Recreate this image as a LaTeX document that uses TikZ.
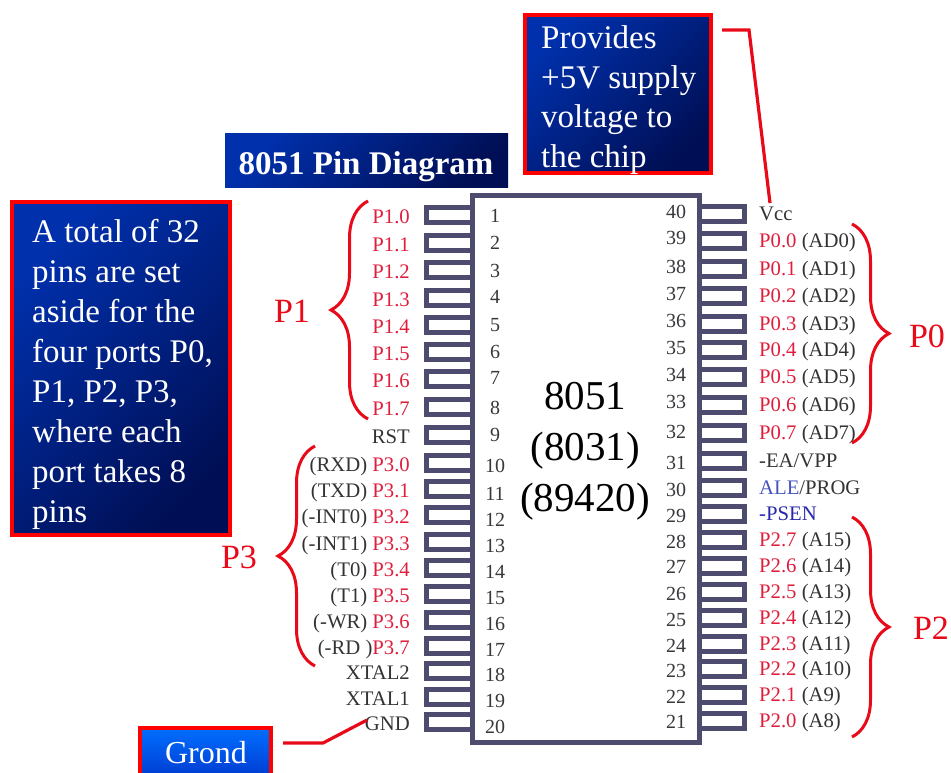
\documentclass[tikz,border=0pt]{standalone}
\usepackage{fontspec}
\setmainfont{Liberation Serif}
\usetikzlibrary{decorations.pathreplacing}

\definecolor{chipgray}{RGB}{78,76,110}
\definecolor{portred}{RGB}{222,30,60}
\definecolor{bracered}{RGB}{232,10,25}
\definecolor{numgray}{RGB}{55,55,60}
\definecolor{aleblue}{RGB}{70,85,190}
\definecolor{psenblue}{RGB}{40,40,170}
\definecolor{boxtop}{RGB}{0,48,172}
\definecolor{boxbot}{RGB}{0,15,85}
\definecolor{grondtop}{RGB}{0,110,255}
\definecolor{grondbot}{RGB}{0,45,195}
\newcommand{\port}[1]{\textcolor{portred}{#1}}

\tikzset{
  pinbox/.style={draw=chipgray, fill=white, line width=5pt, minimum height=15pt, outer sep=0pt, inner sep=0pt},
  pinnum/.style={text=numgray, inner sep=0pt, font=\fontsize{20}{24}\selectfont},
  pinlabel/.style={text=black!80, inner sep=0pt, text height=14pt, text depth=4pt, font=\fontsize{20.7}{24}\selectfont},
  portbrace/.style={draw=bracered, line width=3pt, decorate, decoration={brace, amplitude=37pt, aspect=0.5}},
  portname/.style={text=bracered, inner sep=0pt, font=\fontsize{34}{40}\selectfont},
  bluebox/.style={top color=boxtop, bottom color=boxbot, shading angle=45, outer sep=0pt, inner sep=0pt},
  redbox/.style={bluebox, draw=red, line width=4pt},
  boxtext/.style={text=white, inner sep=0pt, anchor=west, align=flush left, font=\fontsize{33}{39.6}\selectfont},
  callline/.style={draw=bracered, line width=3.2pt},
}

\begin{document}
\begin{tikzpicture}[x=1pt, y=-1pt]
    \path[use as bounding box, clip] (0,0) rectangle (951,772);

    % ==== LEFT PINS ====
    \foreach \n/\y/\ny/\txt in {
        1/215/216/{\port{P1.0}}, 2/243/243/{\port{P1.1}}, 3/270/271/{\port{P1.2}}, 4/298/297/{\port{P1.3}},
        5/325/325/{\port{P1.4}}, 6/352/352/{\port{P1.5}}, 7/379/378/{\port{P1.6}}, 8/407/408/{\port{P1.7}},
        9/435/435/{RST}, 10/463/466/{(RXD) \port{P3.0}}, 11/489/494/{(TXD) \port{P3.1}},
        12/515/520/{(-INT0) \port{P3.2}}, 13/542/546/{(-INT1) \port{P3.3}}, 14/568/572/{(T0) \port{P3.4}},
        15/594/598/{(T1) \port{P3.5}}, 16/620/624/{(-WR) \port{P3.6}}, 17/646/650/{(-RD )\port{P3.7}},
        18/671/675/{XTAL2}, 19/697/701/{XTAL1}, 20/722/727/{GND}}{
        \node[pinbox, minimum width=46pt] (pinL\n) at (449.5,\y) {};
        \node[pinnum] (numL\n) at (495,\ny) {\n};
        \node[pinlabel, anchor=east] (lblL\n) at (410,\y+3) {\txt};
    }

    % ==== RIGHT PINS ====
    \foreach \n/\y/\ny/\txt in {
        40/214/212/{Vcc}, 39/241/238/{\port{P0.0} (AD0)}, 38/269/267/{\port{P0.1} (AD1)}, 37/296/294/{\port{P0.2} (AD2)},
        36/324/321/{\port{P0.3} (AD3)}, 35/350/348/{\port{P0.4} (AD4)}, 34/377/375/{\port{P0.5} (AD5)},
        33/405/402/{\port{P0.6} (AD6)}, 32/433/432/{\port{P0.7} (AD7)}, 31/461/463/{-EA/VPP},
        30/488/490/{\textcolor{aleblue}{ALE}/PROG}, 29/514/516/{\textcolor{psenblue}{-PSEN}},
        28/540/542/{\port{P2.7} (A15)}, 27/566/567/{\port{P2.6} (A14)}, 26/592/594/{\port{P2.5} (A13)},
        25/618/620/{\port{P2.4} (A12)}, 24/644/646/{\port{P2.3} (A11)}, 23/669/671/{\port{P2.2} (A10)},
        22/695/697/{\port{P2.1} (A9)}, 21/721/722/{\port{P2.0} (A8)}}{
        \node[pinbox, minimum width=45pt] (pinR\n) at (722,\y) {};
        \node[pinnum] (numR\n) at (676,\ny) {\n};
        \node[pinlabel, anchor=west] (lblR\n) at (759,\y+1.5) {\txt};
    }

    % ==== CHIP ====
    \draw[chipgray, line width=5pt] (472.5,195.5) rectangle (699.5,742.5);
    \node[align=center, inner sep=0pt, font=\fontsize{41}{51}\selectfont] (chipname) at (585,451)
        {8051\\(8031)\\(89420)};

    % ==== PORT BRACES ====
    \draw[portbrace] (368,419) -- (368,201);
    \draw[portbrace] (315,666) -- (315,446);
    \draw[portbrace] (852,224) -- (852,443);
    \draw[portbrace] (852,517) -- (852,737);
    \node[portname] (nameP1) at (292,311) {P1};
    \node[portname] (nameP3) at (239,557) {P3};
    \node[portname] (nameP0) at (927,336) {P0};
    \node[portname] (nameP2) at (931,628) {P2};

    % ==== TEXT BOXES ====
    \node[bluebox, minimum width=283pt, minimum height=54pt] (titlebox) at (366.5,160.5) {};
    \node[text=white, inner sep=0pt, font=\bfseries\fontsize{33}{40}\selectfont] (titletext) at (366,166.5) {8051 Pin Diagram};
    \node[redbox, minimum width=218pt, minimum height=333pt] (portsbox) at (121,368.5) {};
    \node[boxtext, font=\fontsize{33}{40}\selectfont] (portstext) at (32,374)
        {A total of 32\\pins are set\\aside for the\\four ports P0,\\P1, P2, P3,\\where each\\port takes 8\\pins};
    \node[redbox, minimum width=186pt, minimum height=158pt] (supplybox) at (618,94) {};
    \node[boxtext] (supplytext) at (541,100)
        {Provides\\+5V supply\\voltage to\\the chip};
    \node[redbox, top color=grondtop, bottom color=grondbot, minimum width=131pt, minimum height=64pt] (grondbox) at (205.5,760) {};
    \node[text=white, inner sep=0pt, font=\fontsize{32}{38}\selectfont] (grondtext) at (206,753) {Grond};

    % ==== CALL-OUT LINES ====
    \coordinate (vccstart) at (722,30);
    \coordinate (vccbend) at (749,30);
    \coordinate (vccend) at (770,203);
    \coordinate (gndstart) at (283,743);
    \coordinate (gndbend) at (323,743);
    \coordinate (gndend) at (367,720);
    \draw[callline] (vccstart) -- (vccbend) -- (vccend);
    \draw[callline] (gndstart) -- (gndbend) -- (gndend);
\end{tikzpicture}
\end{document}
